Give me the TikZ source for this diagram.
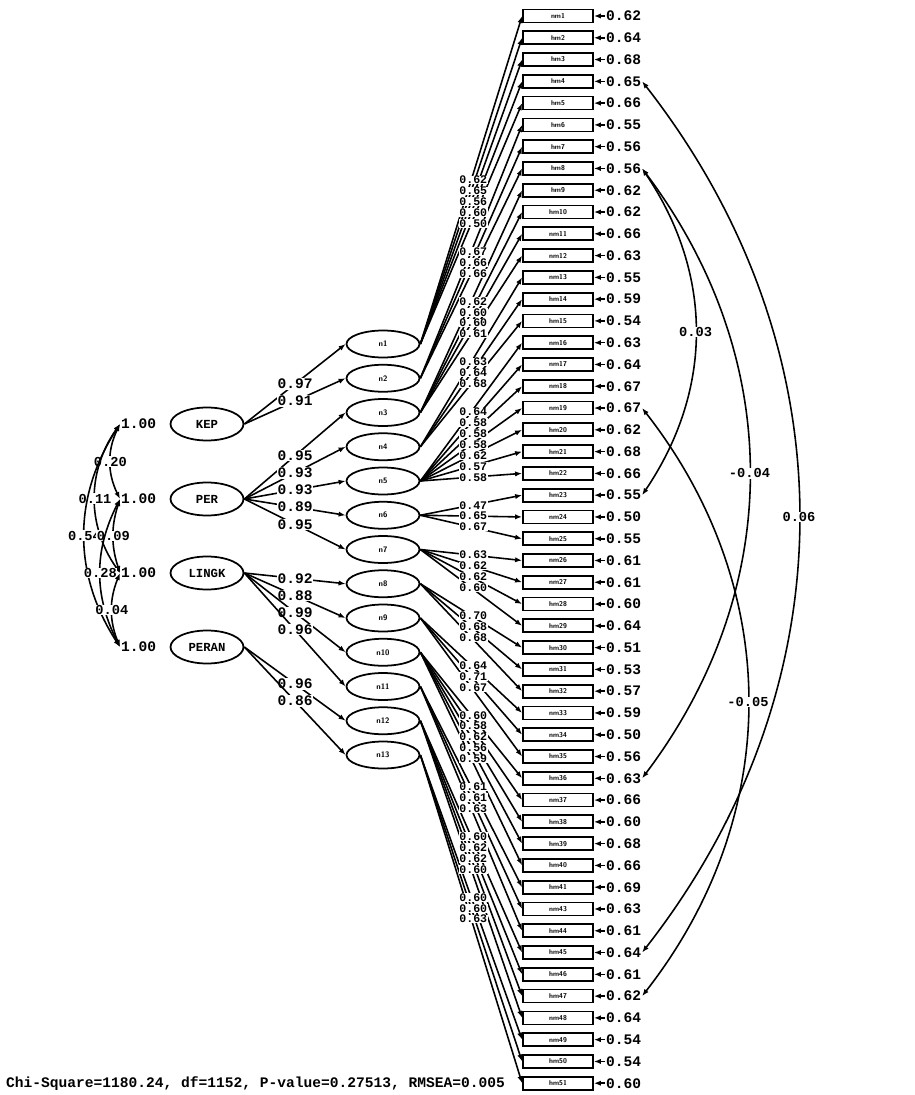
\documentclass[tikz,border=0pt]{standalone}
\usepackage{fontspec}
\setmonofont{Liberation Mono}
\usetikzlibrary{arrows.meta,shapes.geometric}
\begin{document}
\begin{tikzpicture}[x=0.02cm,y=0.02cm,
  ind/.style={draw, line width=1pt, minimum width=1.4cm, minimum height=0.26cm, inner sep=0pt,
    font=\sffamily\bfseries\fontsize{4}{4}\selectfont},
  lat/.style={ellipse, draw, line width=1pt, minimum width=1.46cm, minimum height=0.54cm, inner sep=0pt,
    font=\sffamily\bfseries\fontsize{4.5}{4.5}\selectfont},
  fac/.style={ellipse, draw, line width=1pt, minimum width=1.46cm, minimum height=0.66cm, inner sep=0pt,
    font=\ttfamily\bfseries\fontsize{7}{7}\selectfont},
  num/.style={font=\ttfamily\bfseries\fontsize{8.3}{8.3}\selectfont, inner sep=0.4pt},
  lab/.style={num, fill=white},
  smalllab/.style={font=\ttfamily\bfseries\fontsize{6.6}{6.6}\selectfont, inner sep=0.2pt, fill=white},
  arclab/.style={font=\ttfamily\bfseries\fontsize{7.8}{7.8}\selectfont, inner sep=0.3pt, fill=white},
  pth/.style={line width=0.9pt, -{Latex[length=4pt,width=3pt]}},
  cov/.style={line width=0.9pt, {Latex[length=4pt,width=3pt]}-{Latex[length=4pt,width=3pt]}}]
\useasboundingbox (0,0) rectangle (914,-1095);

% indicators
\foreach \nm [count=\k] in {nm1,hm2,hm3,hm4,hm5,hm6,hm7,hm8,hm9,hm10,
  nm11,nm12,nm13,hm14,hm15,nm16,nm17,nm18,nm19,hm20,
  hm21,hm22,hm23,nm24,hm25,nm26,nm27,hm28,hm29,hm30,
  nm31,hm32,nm33,nm34,hm35,hm36,nm37,hm38,hm39,hm40,
  hm41,nm43,hm44,hm45,hm46,hm47,nm48,nm49,hm50,hm51}
  {\node[ind] (b\k) at (558,{-16-(\k-1)*21.78}) {\nm};}

% error variances
\foreach \v [count=\k] in {0.62,0.64,0.68,0.65,0.66,0.55,0.56,0.56,0.62,0.62,
  0.66,0.63,0.55,0.59,0.54,0.63,0.64,0.67,0.67,0.62,
  0.68,0.66,0.55,0.50,0.55,0.61,0.61,0.60,0.64,0.51,
  0.53,0.57,0.59,0.50,0.56,0.63,0.66,0.60,0.68,0.66,
  0.69,0.63,0.61,0.64,0.61,0.62,0.64,0.54,0.54,0.60}
  {\node[num, anchor=west] (e\k) at (605,{-16-(\k-1)*21.78}) {\v};
   \draw[pth] (e\k.west) -- (b\k.east);}

% first-order factors
\foreach \k in {1,...,13}
  {\node[lat] (n\k) at (383,{-344-(\k-1)*34.25}) {n\k};}

% second-order factors
\node[fac] (KEP) at (207,-424) {KEP};
\node[fac] (PER) at (207,-499) {PER};
\node[fac] (LINGK) at (207,-573) {LINGK};
\node[fac] (PERAN) at (207,-647) {PERAN};

\node[num, anchor=west] (v1) at (120,-424) {1.00};
\node[num, anchor=west] (v2) at (120,-499) {1.00};
\node[num, anchor=west] (v3) at (120,-573) {1.00};
\node[num, anchor=west] (v4) at (120,-647) {1.00};

% second-order loadings
\foreach \f/\k/\v in {KEP/1/0.97, KEP/2/0.91, PER/3/0.95, PER/4/0.93, PER/5/0.93,
  PER/6/0.89, PER/7/0.95, LINGK/8/0.92, LINGK/9/0.88, LINGK/10/0.99, LINGK/11/0.96,
  PERAN/12/0.96, PERAN/13/0.86}
  {\draw[pth] (\f.east) -- node[lab]{\v} (n\k.west);}

% first-order loadings
\def\loadlist{1/1/0.62, 1/2/0.65, 1/3/0.56, 1/4/0.60, 1/5/0.50,
  2/6/0.67, 2/7/0.66, 2/8/0.66,
  3/9/0.62, 3/10/0.60, 3/11/0.60, 3/12/0.61,
  4/13/0.63, 4/14/0.64, 4/15/0.68,
  5/16/0.64, 5/17/0.58, 5/18/0.58, 5/19/0.58, 5/20/0.62, 5/21/0.57, 5/22/0.58,
  6/23/0.47, 6/24/0.65, 6/25/0.67,
  7/26/0.63, 7/27/0.62, 7/28/0.62, 7/29/0.60,
  8/30/0.70, 8/31/0.68, 8/32/0.68,
  9/33/0.64, 9/34/0.71, 9/35/0.67,
  10/36/0.60, 10/37/0.58, 10/38/0.62, 10/39/0.56, 10/40/0.59,
  11/41/0.61, 11/42/0.61, 11/43/0.63,
  12/44/0.60, 12/45/0.62, 12/46/0.62, 12/47/0.60,
  13/48/0.60, 13/49/0.60, 13/50/0.63}
\foreach \f/\k/\v in \loadlist
  {\draw[pth] (n\f.east) -- (b\k.west);}
\foreach \f/\k/\v in \loadlist
  {\path (n\f.east) -- node[smalllab, xshift=0.04cm]{\v} (b\k.west);}

% correlations of second-order factors
\draw[cov] (v1.west) to[bend right=26] node[arclab]{0.20} (v2.west);
\draw[cov] (v1.west) to[bend right=35] node[arclab]{0.11} (v3.west);
\draw[cov] (v1.west) to[bend right=33] node[arclab]{0.54} (v4.west);
\draw[cov] (v2.west) to[bend right=18] node[arclab]{0.09} (v3.west);
\draw[cov] (v2.west) to[bend right=27] node[arclab]{0.28} (v4.west);
\draw[cov] (v3.west) to[bend right=22] node[arclab]{0.04} (v4.west);

% correlated errors
\draw[cov] (e4.east) to[bend left=38] node[arclab]{0.06} (e44.east);
\draw[cov] (e8.east) to[bend left=34] node[arclab]{0.03} (e23.east);
\draw[cov] (e8.east) to[bend left=37] node[arclab]{-0.04} (e36.east);
\draw[cov] (e19.east) to[bend left=38] node[arclab]{-0.05} (e46.east);

\node[num, anchor=base west] (chi) at (5,-1087)
  {Chi-Square=1180.24, df=1152, P-value=0.27513, RMSEA=0.005};
\end{tikzpicture}
\end{document}
